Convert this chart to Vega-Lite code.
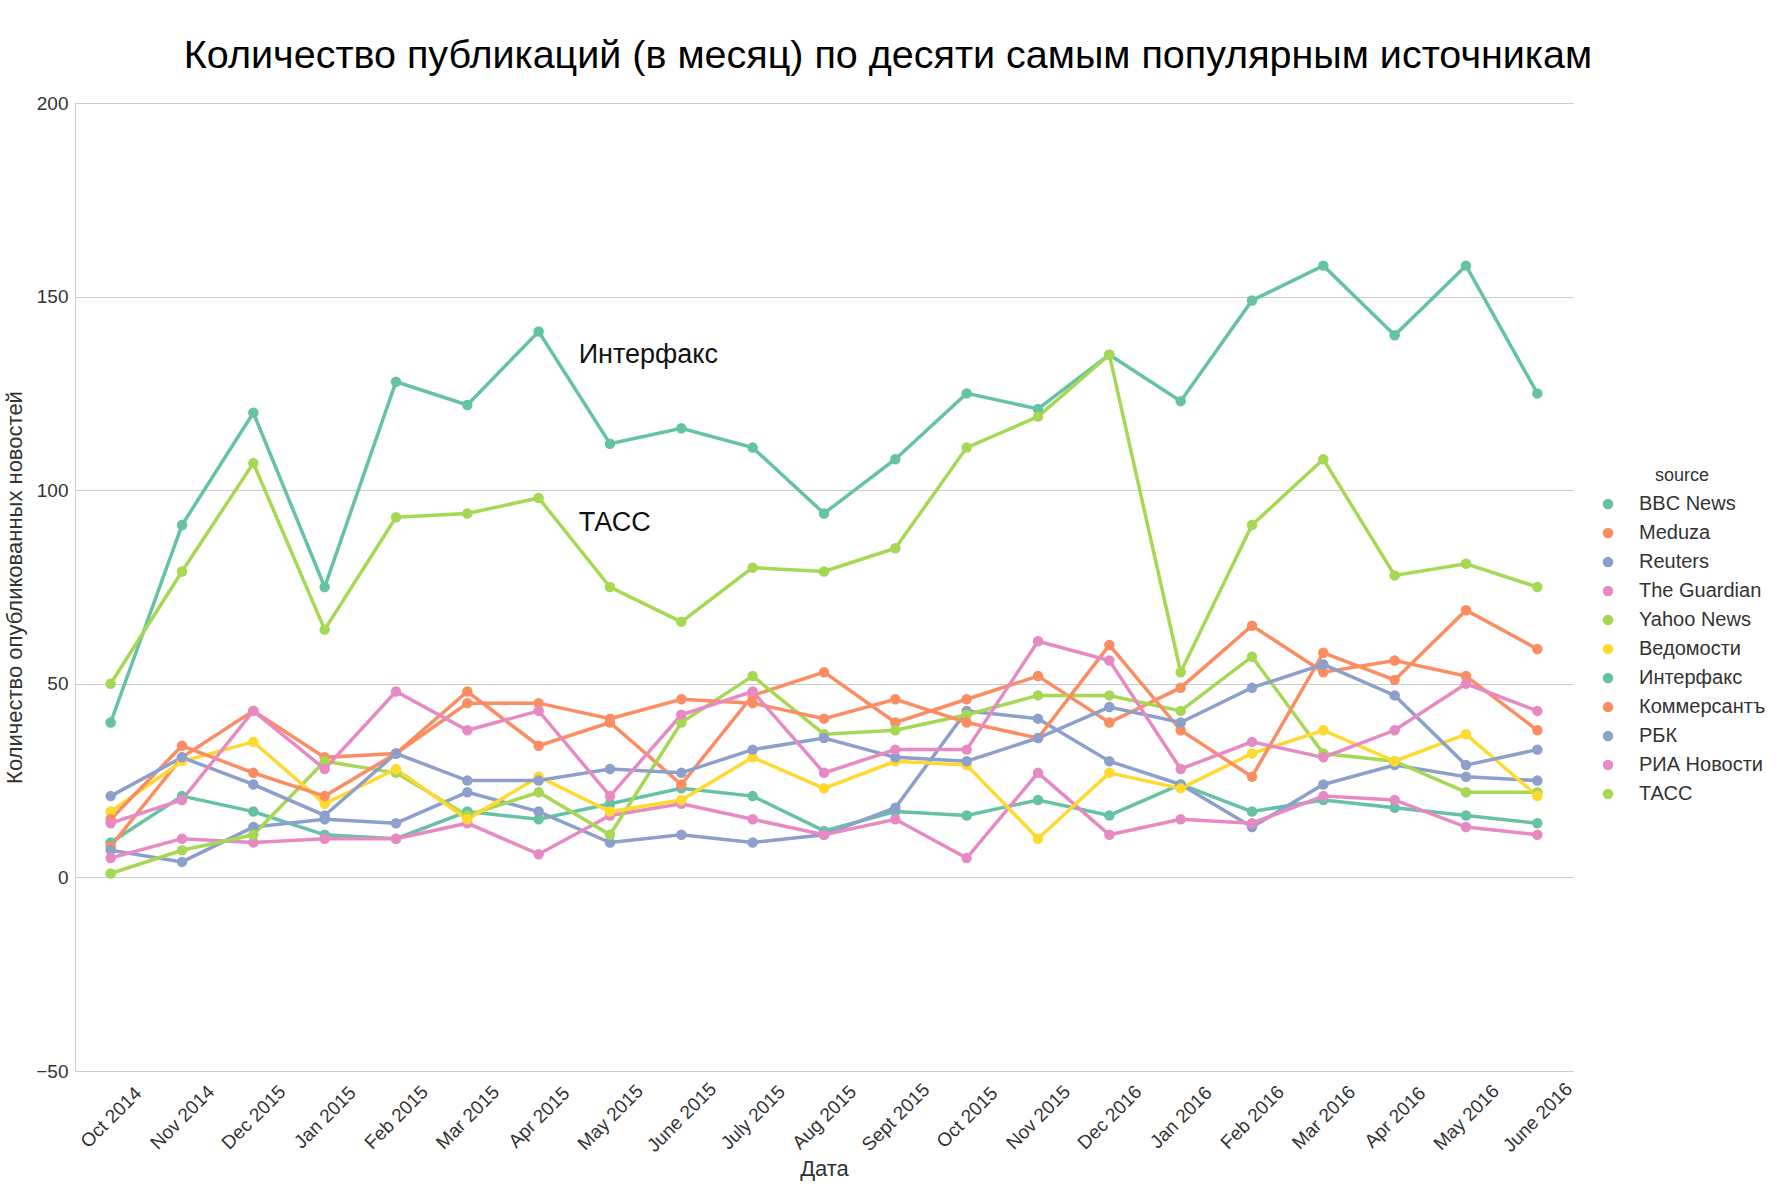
{
  "$schema": "https://vega.github.io/schema/vega-lite/v6.json",
  "width": 1498,
  "height": 968,
  "autosize": {"type": "none"},
  "padding": {"left": 75, "top": 103, "right": 214, "bottom": 115},
  "background": "white",
  "title": {
    "text": "Количество публикаций (в месяц) по десяти самым популярным источникам",
    "font": "Liberation Sans",
    "fontSize": 39.5,
    "fontWeight": "normal",
    "color": "#000000",
    "anchor": "middle",
    "dx": 64,
    "offset": 18
  },
  "datasets": {
    "pubs": [
      {"date": "Oct 2014", "source": "BBC News", "count": 9},
      {"date": "Nov 2014", "source": "BBC News", "count": 21},
      {"date": "Dec 2015", "source": "BBC News", "count": 17},
      {"date": "Jan 2015", "source": "BBC News", "count": 11},
      {"date": "Feb 2015", "source": "BBC News", "count": 10},
      {"date": "Mar 2015", "source": "BBC News", "count": 17},
      {"date": "Apr 2015", "source": "BBC News", "count": 15},
      {"date": "May 2015", "source": "BBC News", "count": 19},
      {"date": "June 2015", "source": "BBC News", "count": 23},
      {"date": "July 2015", "source": "BBC News", "count": 21},
      {"date": "Aug 2015", "source": "BBC News", "count": 12},
      {"date": "Sept 2015", "source": "BBC News", "count": 17},
      {"date": "Oct 2015", "source": "BBC News", "count": 16},
      {"date": "Nov 2015", "source": "BBC News", "count": 20},
      {"date": "Dec 2016", "source": "BBC News", "count": 16},
      {"date": "Jan 2016", "source": "BBC News", "count": 24},
      {"date": "Feb 2016", "source": "BBC News", "count": 17},
      {"date": "Mar 2016", "source": "BBC News", "count": 20},
      {"date": "Apr 2016", "source": "BBC News", "count": 18},
      {"date": "May 2016", "source": "BBC News", "count": 16},
      {"date": "June 2016", "source": "BBC News", "count": 14},

      {"date": "Oct 2014", "source": "Meduza", "count": 8},
      {"date": "Nov 2014", "source": "Meduza", "count": 31},
      {"date": "Dec 2015", "source": "Meduza", "count": 43},
      {"date": "Jan 2015", "source": "Meduza", "count": 31},
      {"date": "Feb 2015", "source": "Meduza", "count": 32},
      {"date": "Mar 2015", "source": "Meduza", "count": 48},
      {"date": "Apr 2015", "source": "Meduza", "count": 34},
      {"date": "May 2015", "source": "Meduza", "count": 40},
      {"date": "June 2015", "source": "Meduza", "count": 24},
      {"date": "July 2015", "source": "Meduza", "count": 47},
      {"date": "Aug 2015", "source": "Meduza", "count": 53},
      {"date": "Sept 2015", "source": "Meduza", "count": 40},
      {"date": "Oct 2015", "source": "Meduza", "count": 46},
      {"date": "Nov 2015", "source": "Meduza", "count": 52},
      {"date": "Dec 2016", "source": "Meduza", "count": 40},
      {"date": "Jan 2016", "source": "Meduza", "count": 49},
      {"date": "Feb 2016", "source": "Meduza", "count": 65},
      {"date": "Mar 2016", "source": "Meduza", "count": 53},
      {"date": "Apr 2016", "source": "Meduza", "count": 56},
      {"date": "May 2016", "source": "Meduza", "count": 52},
      {"date": "June 2016", "source": "Meduza", "count": 38},

      {"date": "Oct 2014", "source": "Reuters", "count": 7},
      {"date": "Nov 2014", "source": "Reuters", "count": 4},
      {"date": "Dec 2015", "source": "Reuters", "count": 13},
      {"date": "Jan 2015", "source": "Reuters", "count": 15},
      {"date": "Feb 2015", "source": "Reuters", "count": 14},
      {"date": "Mar 2015", "source": "Reuters", "count": 22},
      {"date": "Apr 2015", "source": "Reuters", "count": 17},
      {"date": "May 2015", "source": "Reuters", "count": 9},
      {"date": "June 2015", "source": "Reuters", "count": 11},
      {"date": "July 2015", "source": "Reuters", "count": 9},
      {"date": "Aug 2015", "source": "Reuters", "count": 11},
      {"date": "Sept 2015", "source": "Reuters", "count": 18},
      {"date": "Oct 2015", "source": "Reuters", "count": 43},
      {"date": "Nov 2015", "source": "Reuters", "count": 41},
      {"date": "Dec 2016", "source": "Reuters", "count": 30},
      {"date": "Jan 2016", "source": "Reuters", "count": 24},
      {"date": "Feb 2016", "source": "Reuters", "count": 13},
      {"date": "Mar 2016", "source": "Reuters", "count": 24},
      {"date": "Apr 2016", "source": "Reuters", "count": 29},
      {"date": "May 2016", "source": "Reuters", "count": 26},
      {"date": "June 2016", "source": "Reuters", "count": 25},

      {"date": "Oct 2014", "source": "The Guardian", "count": 5},
      {"date": "Nov 2014", "source": "The Guardian", "count": 10},
      {"date": "Dec 2015", "source": "The Guardian", "count": 9},
      {"date": "Jan 2015", "source": "The Guardian", "count": 10},
      {"date": "Feb 2015", "source": "The Guardian", "count": 10},
      {"date": "Mar 2015", "source": "The Guardian", "count": 14},
      {"date": "Apr 2015", "source": "The Guardian", "count": 6},
      {"date": "May 2015", "source": "The Guardian", "count": 16},
      {"date": "June 2015", "source": "The Guardian", "count": 19},
      {"date": "July 2015", "source": "The Guardian", "count": 15},
      {"date": "Aug 2015", "source": "The Guardian", "count": 11},
      {"date": "Sept 2015", "source": "The Guardian", "count": 15},
      {"date": "Oct 2015", "source": "The Guardian", "count": 5},
      {"date": "Nov 2015", "source": "The Guardian", "count": 27},
      {"date": "Dec 2016", "source": "The Guardian", "count": 11},
      {"date": "Jan 2016", "source": "The Guardian", "count": 15},
      {"date": "Feb 2016", "source": "The Guardian", "count": 14},
      {"date": "Mar 2016", "source": "The Guardian", "count": 21},
      {"date": "Apr 2016", "source": "The Guardian", "count": 20},
      {"date": "May 2016", "source": "The Guardian", "count": 13},
      {"date": "June 2016", "source": "The Guardian", "count": 11},

      {"date": "Oct 2014", "source": "Yahoo News", "count": 1},
      {"date": "Nov 2014", "source": "Yahoo News", "count": 7},
      {"date": "Dec 2015", "source": "Yahoo News", "count": 11},
      {"date": "Jan 2015", "source": "Yahoo News", "count": 30},
      {"date": "Feb 2015", "source": "Yahoo News", "count": 27},
      {"date": "Mar 2015", "source": "Yahoo News", "count": 16},
      {"date": "Apr 2015", "source": "Yahoo News", "count": 22},
      {"date": "May 2015", "source": "Yahoo News", "count": 11},
      {"date": "June 2015", "source": "Yahoo News", "count": 40},
      {"date": "July 2015", "source": "Yahoo News", "count": 52},
      {"date": "Aug 2015", "source": "Yahoo News", "count": 37},
      {"date": "Sept 2015", "source": "Yahoo News", "count": 38},
      {"date": "Oct 2015", "source": "Yahoo News", "count": 42},
      {"date": "Nov 2015", "source": "Yahoo News", "count": 47},
      {"date": "Dec 2016", "source": "Yahoo News", "count": 47},
      {"date": "Jan 2016", "source": "Yahoo News", "count": 43},
      {"date": "Feb 2016", "source": "Yahoo News", "count": 57},
      {"date": "Mar 2016", "source": "Yahoo News", "count": 32},
      {"date": "Apr 2016", "source": "Yahoo News", "count": 30},
      {"date": "May 2016", "source": "Yahoo News", "count": 22},
      {"date": "June 2016", "source": "Yahoo News", "count": 22},

      {"date": "Oct 2014", "source": "Ведомости", "count": 17},
      {"date": "Nov 2014", "source": "Ведомости", "count": 30},
      {"date": "Dec 2015", "source": "Ведомости", "count": 35},
      {"date": "Jan 2015", "source": "Ведомости", "count": 19},
      {"date": "Feb 2015", "source": "Ведомости", "count": 28},
      {"date": "Mar 2015", "source": "Ведомости", "count": 15},
      {"date": "Apr 2015", "source": "Ведомости", "count": 26},
      {"date": "May 2015", "source": "Ведомости", "count": 17},
      {"date": "June 2015", "source": "Ведомости", "count": 20},
      {"date": "July 2015", "source": "Ведомости", "count": 31},
      {"date": "Aug 2015", "source": "Ведомости", "count": 23},
      {"date": "Sept 2015", "source": "Ведомости", "count": 30},
      {"date": "Oct 2015", "source": "Ведомости", "count": 29},
      {"date": "Nov 2015", "source": "Ведомости", "count": 10},
      {"date": "Dec 2016", "source": "Ведомости", "count": 27},
      {"date": "Jan 2016", "source": "Ведомости", "count": 23},
      {"date": "Feb 2016", "source": "Ведомости", "count": 32},
      {"date": "Mar 2016", "source": "Ведомости", "count": 38},
      {"date": "Apr 2016", "source": "Ведомости", "count": 30},
      {"date": "May 2016", "source": "Ведомости", "count": 37},
      {"date": "June 2016", "source": "Ведомости", "count": 21},

      {"date": "Oct 2014", "source": "Интерфакс", "count": 40},
      {"date": "Nov 2014", "source": "Интерфакс", "count": 91},
      {"date": "Dec 2015", "source": "Интерфакс", "count": 120},
      {"date": "Jan 2015", "source": "Интерфакс", "count": 75},
      {"date": "Feb 2015", "source": "Интерфакс", "count": 128},
      {"date": "Mar 2015", "source": "Интерфакс", "count": 122},
      {"date": "Apr 2015", "source": "Интерфакс", "count": 141},
      {"date": "May 2015", "source": "Интерфакс", "count": 112},
      {"date": "June 2015", "source": "Интерфакс", "count": 116},
      {"date": "July 2015", "source": "Интерфакс", "count": 111},
      {"date": "Aug 2015", "source": "Интерфакс", "count": 94},
      {"date": "Sept 2015", "source": "Интерфакс", "count": 108},
      {"date": "Oct 2015", "source": "Интерфакс", "count": 125},
      {"date": "Nov 2015", "source": "Интерфакс", "count": 121},
      {"date": "Dec 2016", "source": "Интерфакс", "count": 135},
      {"date": "Jan 2016", "source": "Интерфакс", "count": 123},
      {"date": "Feb 2016", "source": "Интерфакс", "count": 149},
      {"date": "Mar 2016", "source": "Интерфакс", "count": 158},
      {"date": "Apr 2016", "source": "Интерфакс", "count": 140},
      {"date": "May 2016", "source": "Интерфакс", "count": 158},
      {"date": "June 2016", "source": "Интерфакс", "count": 125},

      {"date": "Oct 2014", "source": "Коммерсантъ", "count": 15},
      {"date": "Nov 2014", "source": "Коммерсантъ", "count": 34},
      {"date": "Dec 2015", "source": "Коммерсантъ", "count": 27},
      {"date": "Jan 2015", "source": "Коммерсантъ", "count": 21},
      {"date": "Feb 2015", "source": "Коммерсантъ", "count": 32},
      {"date": "Mar 2015", "source": "Коммерсантъ", "count": 45},
      {"date": "Apr 2015", "source": "Коммерсантъ", "count": 45},
      {"date": "May 2015", "source": "Коммерсантъ", "count": 41},
      {"date": "June 2015", "source": "Коммерсантъ", "count": 46},
      {"date": "July 2015", "source": "Коммерсантъ", "count": 45},
      {"date": "Aug 2015", "source": "Коммерсантъ", "count": 41},
      {"date": "Sept 2015", "source": "Коммерсантъ", "count": 46},
      {"date": "Oct 2015", "source": "Коммерсантъ", "count": 40},
      {"date": "Nov 2015", "source": "Коммерсантъ", "count": 36},
      {"date": "Dec 2016", "source": "Коммерсантъ", "count": 60},
      {"date": "Jan 2016", "source": "Коммерсантъ", "count": 38},
      {"date": "Feb 2016", "source": "Коммерсантъ", "count": 26},
      {"date": "Mar 2016", "source": "Коммерсантъ", "count": 58},
      {"date": "Apr 2016", "source": "Коммерсантъ", "count": 51},
      {"date": "May 2016", "source": "Коммерсантъ", "count": 69},
      {"date": "June 2016", "source": "Коммерсантъ", "count": 59},

      {"date": "Oct 2014", "source": "РБК", "count": 21},
      {"date": "Nov 2014", "source": "РБК", "count": 31},
      {"date": "Dec 2015", "source": "РБК", "count": 24},
      {"date": "Jan 2015", "source": "РБК", "count": 16},
      {"date": "Feb 2015", "source": "РБК", "count": 32},
      {"date": "Mar 2015", "source": "РБК", "count": 25},
      {"date": "Apr 2015", "source": "РБК", "count": 25},
      {"date": "May 2015", "source": "РБК", "count": 28},
      {"date": "June 2015", "source": "РБК", "count": 27},
      {"date": "July 2015", "source": "РБК", "count": 33},
      {"date": "Aug 2015", "source": "РБК", "count": 36},
      {"date": "Sept 2015", "source": "РБК", "count": 31},
      {"date": "Oct 2015", "source": "РБК", "count": 30},
      {"date": "Nov 2015", "source": "РБК", "count": 36},
      {"date": "Dec 2016", "source": "РБК", "count": 44},
      {"date": "Jan 2016", "source": "РБК", "count": 40},
      {"date": "Feb 2016", "source": "РБК", "count": 49},
      {"date": "Mar 2016", "source": "РБК", "count": 55},
      {"date": "Apr 2016", "source": "РБК", "count": 47},
      {"date": "May 2016", "source": "РБК", "count": 29},
      {"date": "June 2016", "source": "РБК", "count": 33},

      {"date": "Oct 2014", "source": "РИА Новости", "count": 14},
      {"date": "Nov 2014", "source": "РИА Новости", "count": 20},
      {"date": "Dec 2015", "source": "РИА Новости", "count": 43},
      {"date": "Jan 2015", "source": "РИА Новости", "count": 28},
      {"date": "Feb 2015", "source": "РИА Новости", "count": 48},
      {"date": "Mar 2015", "source": "РИА Новости", "count": 38},
      {"date": "Apr 2015", "source": "РИА Новости", "count": 43},
      {"date": "May 2015", "source": "РИА Новости", "count": 21},
      {"date": "June 2015", "source": "РИА Новости", "count": 42},
      {"date": "July 2015", "source": "РИА Новости", "count": 48},
      {"date": "Aug 2015", "source": "РИА Новости", "count": 27},
      {"date": "Sept 2015", "source": "РИА Новости", "count": 33},
      {"date": "Oct 2015", "source": "РИА Новости", "count": 33},
      {"date": "Nov 2015", "source": "РИА Новости", "count": 61},
      {"date": "Dec 2016", "source": "РИА Новости", "count": 56},
      {"date": "Jan 2016", "source": "РИА Новости", "count": 28},
      {"date": "Feb 2016", "source": "РИА Новости", "count": 35},
      {"date": "Mar 2016", "source": "РИА Новости", "count": 31},
      {"date": "Apr 2016", "source": "РИА Новости", "count": 38},
      {"date": "May 2016", "source": "РИА Новости", "count": 50},
      {"date": "June 2016", "source": "РИА Новости", "count": 43},

      {"date": "Oct 2014", "source": "ТАСС", "count": 50},
      {"date": "Nov 2014", "source": "ТАСС", "count": 79},
      {"date": "Dec 2015", "source": "ТАСС", "count": 107},
      {"date": "Jan 2015", "source": "ТАСС", "count": 64},
      {"date": "Feb 2015", "source": "ТАСС", "count": 93},
      {"date": "Mar 2015", "source": "ТАСС", "count": 94},
      {"date": "Apr 2015", "source": "ТАСС", "count": 98},
      {"date": "May 2015", "source": "ТАСС", "count": 75},
      {"date": "June 2015", "source": "ТАСС", "count": 66},
      {"date": "July 2015", "source": "ТАСС", "count": 80},
      {"date": "Aug 2015", "source": "ТАСС", "count": 79},
      {"date": "Sept 2015", "source": "ТАСС", "count": 85},
      {"date": "Oct 2015", "source": "ТАСС", "count": 111},
      {"date": "Nov 2015", "source": "ТАСС", "count": 119},
      {"date": "Dec 2016", "source": "ТАСС", "count": 135},
      {"date": "Jan 2016", "source": "ТАСС", "count": 53},
      {"date": "Feb 2016", "source": "ТАСС", "count": 91},
      {"date": "Mar 2016", "source": "ТАСС", "count": 108},
      {"date": "Apr 2016", "source": "ТАСС", "count": 78},
      {"date": "May 2016", "source": "ТАСС", "count": 81},
      {"date": "June 2016", "source": "ТАСС", "count": 75}
    ],
    "notes": [
      {"date": "Apr 2015", "count": 135, "label": "Интерфакс"},
      {"date": "Apr 2015", "count": 91.5, "label": "ТАСС"}
    ]
  },
  "encoding": {
    "x": {
      "field": "date",
      "type": "nominal",
      "scale": {
        "type": "point",
        "padding": 0.5,
        "domain": ["Oct 2014", "Nov 2014", "Dec 2015", "Jan 2015", "Feb 2015", "Mar 2015", "Apr 2015", "May 2015", "June 2015", "July 2015", "Aug 2015", "Sept 2015", "Oct 2015", "Nov 2015", "Dec 2016", "Jan 2016", "Feb 2016", "Mar 2016", "Apr 2016", "May 2016", "June 2016"]
      },
      "axis": {
        "title": "Дата",
        "grid": false,
        "domain": false,
        "ticks": false,
        "tickSize": 0,
        "labelAngle": -45,
        "labelAlign": "center",
        "labelBaseline": "middle",
        "labelPadding": 46,
        "labelFontSize": 19,
        "labelOverlap": false,
        "titleFontSize": 22,
        "titlePadding": 3
      }
    },
    "y": {
      "field": "count",
      "type": "quantitative",
      "scale": {"domain": [-50, 200], "nice": false, "zero": false},
      "axis": {
        "title": "Количество опубликованных новостей",
        "values": [-50, 0, 50, 100, 150, 200],
        "grid": true,
        "domain": true,
        "ticks": false,
        "tickSize": 0,
        "labelFontSize": 19,
        "labelPadding": 7,
        "titleFontSize": 22,
        "titlePadding": 9
      }
    },
    "color": {
      "field": "source",
      "type": "nominal",
      "scale": {
        "domain": ["BBC News", "Meduza", "Reuters", "The Guardian", "Yahoo News", "Ведомости", "Интерфакс", "Коммерсантъ", "РБК", "РИА Новости", "ТАСС"],
        "range": ["#66c2a5", "#fc8d62", "#8da0cb", "#e78ac3", "#a6d854", "#ffd92f", "#66c2a5", "#fc8d62", "#8da0cb", "#e78ac3", "#a6d854"]
      },
      "legend": {
        "title": "source",
        "orient": "none",
        "legendX": 1523,
        "legendY": 364,
        "symbolType": "circle",
        "symbolSize": 110,
        "symbolStrokeWidth": 0,
        "symbolFillColor": null
      }
    }
  },
  "layer": [
    {
      "data": {"name": "pubs"},
      "mark": {"type": "line", "strokeWidth": 3.5}
    },
    {
      "data": {"name": "pubs"},
      "mark": {"type": "point", "filled": true, "size": 110, "opacity": 1}
    },
    {
      "data": {"name": "notes"},
      "mark": {"type": "text", "align": "left", "baseline": "middle", "dx": 40, "fontSize": 27, "font": "Liberation Sans", "color": "#111111"},
      "encoding": {
        "text": {"field": "label", "type": "nominal"},
        "color": {"value": "#111111"}
      }
    }
  ],
  "config": {
    "font": "Liberation Sans",
    "view": {"stroke": null},
    "axis": {
      "labelFont": "Liberation Sans",
      "titleFont": "Liberation Sans",
      "labelColor": "#333333",
      "titleColor": "#333333",
      "titleFontWeight": "normal",
      "gridColor": "#cccccc",
      "gridWidth": 1,
      "domainColor": "#cccccc",
      "domainWidth": 1
    },
    "legend": {
      "titleFont": "Liberation Sans",
      "labelFont": "Liberation Sans",
      "titleFontSize": 18,
      "titleFontWeight": "normal",
      "titleColor": "#333333",
      "titleAnchor": "middle",
      "titlePadding": 9,
      "labelFontSize": 20,
      "labelColor": "#333333",
      "labelOffset": 21,
      "rowPadding": 9,
      "symbolOpacity": 1
    }
  }
}
